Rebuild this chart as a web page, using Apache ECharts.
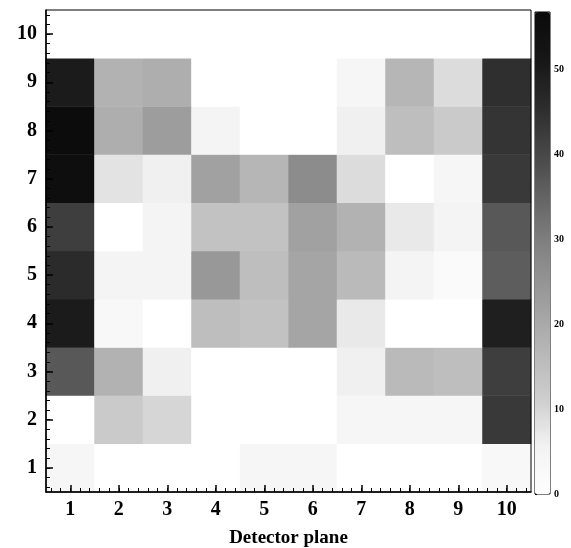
<!DOCTYPE html>
<html>
<head>
<meta charset="utf-8">
<script src="https://cdn.jsdelivr.net/npm/echarts@6/dist/echarts.min.js"></script>
<style>
  html, body { margin: 0; padding: 0; background: #fff; }
  #chart { width: 571px; height: 548px; }
</style>
</head>
<body>
<div id="chart"></div>
<script>
// Detector planes along x, rows along y
const planes = ['1', '2', '3', '4', '5', '6', '7', '8', '9', '10'];
const rowLabels = ['1', '2', '3', '4', '5', '6', '7', '8', '9', '10'];

// Counts per row (index = row - 1), values listed by detector plane 1..10
const row1  = [4, 0, 0, 0, 4, 4, 0, 0, 0, 3];
const row2  = [0, 12, 10, 0, 0, 0, 4, 4, 4, 43];
const row3  = [37, 18, 6, 0, 0, 0, 6, 16, 15, 42];
const row4  = [50, 3, 0, 15, 14, 21, 7, 0, 0, 49];
const row5  = [46, 5, 5, 24, 15, 21, 16, 5, 2, 36];
const row6  = [42, 0, 5, 14, 14, 22, 18, 7, 5, 37];
const row7  = [55, 8, 6, 22, 17, 27, 9, 0, 4, 43];
const row8  = [56, 19, 23, 5, 0, 0, 6, 15, 12, 44];
const row9  = [50, 18, 19, 0, 0, 0, 4, 17, 9, 45];
const row10 = [0, 0, 0, 0, 0, 0, 0, 0, 0, 0];
const rows = [row1, row2, row3, row4, row5, row6, row7, row8, row9, row10];

// Colour scale range and ticks
const zMin = 0;
const zMax = 56.7;
const zTickStep = 10;

const cells = [];
rows.forEach(function (vals, r) {
  vals.forEach(function (v, c) { cells.push([c, r, v]); });
});

const serif = '"Liberation Serif", "DejaVu Serif", serif';
const chart = echarts.init(document.getElementById('chart'), null, { renderer: 'canvas' });

// Plot frame (pixels) and the fine-tick range inside it
const W = 571, H = 548;
const plot = { left: 46, right: 531, top: 10, bottom: 492 };
const fineStep = 0.2;
const fineMin = 0.6, fineMax = 10.4;   // multiples of fineStep, inside [0.5, 10.5]
const cellW = (plot.right - plot.left) / 10;
const cellH = (plot.bottom - plot.top) / 10;
const fineGrid = {
  show: false, containLabel: false, outerBoundsMode: 'none',
  left: plot.left + (fineMin - 0.5) * cellW,
  right: W - (plot.right - (10.5 - fineMax) * cellW),
  top: plot.top + (10.5 - fineMax) * cellH,
  bottom: H - (plot.bottom - (fineMin - 0.5) * cellH)
};

const fineTickAxis = {
  type: 'value',
  min: fineMin,
  max: fineMax,
  interval: fineStep,
  axisLine: { show: false },
  axisLabel: { show: false },
  splitLine: { show: false },
  axisTick: { show: true, inside: true, length: 4, lineStyle: { color: '#000', width: 1 } }
};

chart.setOption({
  animation: false,
  backgroundColor: '#fff',
  grid: [
    { left: plot.left, right: W - plot.right, top: plot.top, bottom: H - plot.bottom,
      show: true, borderColor: '#000', borderWidth: 1, backgroundColor: 'transparent', z: 3,
      containLabel: false, outerBoundsMode: 'none' },
    { left: 535, width: 15, top: 12, bottom: 54, show: true, borderColor: '#000', borderWidth: 1,
      backgroundColor: 'transparent', z: 3, containLabel: false, outerBoundsMode: 'none' },
    fineGrid
  ],
  xAxis: [
    {
      type: 'category', data: planes, gridIndex: 0,
      axisLine: { show: true, lineStyle: { color: '#000', width: 1.5 } },
      axisTick: { show: true, inside: true, alignWithLabel: true, length: 7, lineStyle: { color: '#000', width: 1.5 } },
      axisLabel: { fontFamily: serif, fontWeight: 'bold', fontSize: 20, color: '#000', margin: 8 },
      splitLine: { show: false },
      name: 'Detector plane', nameLocation: 'middle', nameGap: 37,
      nameTextStyle: { fontFamily: serif, fontWeight: 'bold', fontSize: 19, color: '#000' },
      z: 4
    },
    { type: 'value', gridIndex: 1, show: false, min: 0, max: 1 },
    Object.assign({ gridIndex: 2, position: 'bottom', offset: (fineMin - 0.5) * cellH, z: 4 }, fineTickAxis)
  ],
  yAxis: [
    {
      type: 'category', data: rowLabels, gridIndex: 0,
      axisLine: { show: true, lineStyle: { color: '#000', width: 1.5 } },
      axisTick: { show: true, inside: true, alignWithLabel: true, length: 7, lineStyle: { color: '#000', width: 1.5 } },
      axisLabel: { fontFamily: serif, fontWeight: 'bold', fontSize: 20, color: '#000', margin: 9 },
      splitLine: { show: false },
      z: 4
    },
    {
      type: 'value', gridIndex: 1, position: 'right',
      min: zMin, max: zMax, interval: zTickStep,
      axisLine: { show: false },
      axisTick: { show: true, inside: false, length: 2, lineStyle: { color: '#000' } },
      axisLabel: { fontFamily: serif, fontWeight: 'bold', fontSize: 10, color: '#000', margin: 4,
        formatter: function (v) { return v % zTickStep === 0 ? String(v) : ''; } },
      splitLine: { show: false }
    },
    Object.assign({ gridIndex: 2, position: 'left', offset: (fineMin - 0.5) * cellW, z: 4 }, fineTickAxis)
  ],
  visualMap: {
    type: 'continuous',
    seriesIndex: 0,
    min: zMin,
    max: zMax,
    calculable: false,
    orient: 'vertical',
    left: 535,
    top: 12,
    padding: 0,
    itemWidth: 15,
    itemHeight: 482,
    text: null,
    showLabel: false,
    inRange: {
      color: ['#ffffff', '#f2f2f2', '#cdcdcd', '#b6b6b6', '#9e9e9e', '#868686',
              '#686868', '#494949', '#2d2d2d', '#171717', '#0a0a0a']
    }
  },
  series: [{
    type: 'heatmap',
    xAxisIndex: 0,
    yAxisIndex: 0,
    data: cells,
    itemStyle: { borderWidth: 0 },
    emphasis: { disabled: true },
    z: 1
  }]
});
</script>
</body>
</html>
